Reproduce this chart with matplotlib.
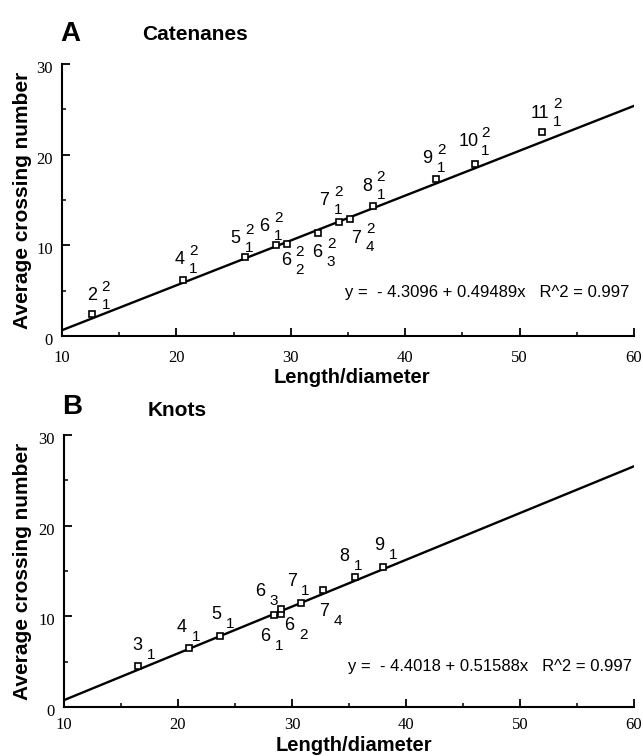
# average crossing number vs length/diameter for catenanes and knots

import matplotlib.pyplot as plt
import matplotlib.transforms as mtransforms
import numpy as np

# panel A - catenanes
cat_len = [12.6, 20.6, 26.0, 28.7, 29.7, 32.4, 34.2, 35.2, 37.2, 42.7, 46.1, 52.0]
cat_cross = [2.4, 6.2, 8.7, 10.05, 10.15, 11.4, 12.55, 12.9, 14.3, 17.3, 19.0, 22.55]
cat_main = ['2', '4', '5', '6', '6', '6', '7', '7', '8', '9', '10', '11']
cat_sub = ['1', '1', '1', '1', '2', '3', '1', '4', '1', '1', '1', '1']
cat_fit = (-4.3096, 0.49489)
cat_eq = 'y =  - 4.3096 + 0.49489x   R^2 = 0.997'

# panel B - knots
knot_len = [16.5, 21.0, 23.7, 28.4, 29.0, 29.0, 30.8, 32.7, 35.5, 37.95]
knot_cross = [4.47, 6.54, 7.85, 10.1, 10.3, 10.8, 11.5, 12.85, 14.37, 15.46]
knot_main = ['3', '4', '5', '6', '6', '6', '7', '7', '8', '9']
knot_sub = ['1', '1', '1', '1', '2', '3', '1', '4', '1', '1']
knot_fit = (-4.4018, 0.51588)
knot_eq = 'y =  - 4.4018 + 0.51588x   R^2 = 0.997'

# label placement (pixels right / down from the point)
cat_off = [(0, -20.5), (-3.7, -22), (-9.5, -20.5), (-11.5, -20), (-1.5, 15), (-1.2, 18),
           (-14.4, -23.5), (5.8, 17), (-6.2, -22), (-8.7, -22.3), (-6.7, -24), (-2.4, -20.5)]
knot_off = [(-1.2, -23), (-7.4, -22.3), (-3.7, -23.6), (-8.2, 18.7), (8.5, 10), (-20.6, -19.7),
            (-9.5, -23), (1.2, 19.3), (-10.3, -22.6), (-3.7, -23.6)]

W, H = 643, 756
SANS = 'Liberation Sans'
SERIF = 'Liberation Serif'


def put(ax, x, y, s, dx, dy, size):
    # dx, dy: pixel offset of the digit centre (dy positive = down)
    em = size / 72 * 100
    ax.annotate(s, (x, y), xytext=(dx, -dy - 0.36 * em), textcoords='offset pixels',
                ha='center', va='baseline', fontsize=size, family=SANS)


def setup(ax, xpad, ypad):
    ax.set_xlim(10, 60)
    ax.set_ylim(0, 30)
    for s in ['top', 'right']:
        ax.spines[s].set_visible(False)
    for s in ['left', 'bottom']:
        ax.spines[s].set_linewidth(1.5)
    ax.set_xticks(np.arange(10, 61, 10))
    ax.set_xticks(np.arange(15, 60, 10), minor=True)
    ax.set_yticks([0, 10, 20, 30])
    ax.set_yticks([5, 15, 25], minor=True)
    ax.tick_params(which='major', direction='in', length=5.5, width=1.3, labelsize=12)
    ax.tick_params(which='minor', direction='in', length=2.7, width=1.1)
    ax.tick_params(axis='x', which='major', pad=xpad)
    ax.tick_params(axis='y', which='major', pad=ypad)
    shift = mtransforms.ScaledTranslation(0, -3 / 100, ax.figure.dpi_scale_trans)
    for lab in ax.get_xticklabels() + ax.get_yticklabels():
        lab.set_family(SERIF)
    for lab in ax.get_yticklabels():
        lab.set_transform(lab.get_transform() + shift)


def panel(ax, xs, ys, mains, subs, offs, fit, eq, eq_xy, linked):
    xl = np.array([10, 60])
    ax.plot(xl, fit[0] + fit[1] * xl, color='black', linewidth=1.7, zorder=2)
    ax.plot(xs, ys, linestyle='none', marker='s', markersize=5, markerfacecolor='white',
            markeredgecolor='black', markeredgewidth=1.2, zorder=3, clip_on=False)
    for x, y, m, s, (dx, dy) in zip(xs, ys, mains, subs, offs):
        put(ax, x, y, m, dx, dy, 13)
        w = 14 if len(m) == 1 else 17
        if linked:
            put(ax, x, y, '2', dx + w, dy - 8.5, 11)
            put(ax, x, y, s, dx + w, dy + 9.5, 11)
        else:
            put(ax, x, y, s, dx + w, dy + 10, 11)
    ax.text(eq_xy[0], eq_xy[1], eq, ha='right', va='center', fontsize=12, family=SANS)


fig = plt.figure(figsize=(W / 100, H / 100), dpi=100)

axA = fig.add_axes([62 / W, 1 - 336 / H, (634 - 62) / W, (336 - 64) / H])
setup(axA, 10, 6.5)
panel(axA, cat_len, cat_cross, cat_main, cat_sub, cat_off, cat_fit, cat_eq, (59.6, 4.76), True)

axB = fig.add_axes([64 / W, 1 - 707 / H, (634 - 64) / W, (707 - 435) / H])
setup(axB, 7, 6.5)
panel(axB, knot_len, knot_cross, knot_main, knot_sub, knot_off, knot_fit, knot_eq, (59.8, 4.47), False)

# titles and axis labels
fig.text(70 / W, 1 - 34 / H, 'A', fontsize=20, weight='bold', family=SANS, ha='center', va='center')
fig.text(142 / W, 1 - 34 / H, 'Catenanes', fontsize=15, weight='bold', family=SANS, ha='left', va='center')
fig.text(72 / W, 1 - 407 / H, 'B', fontsize=20, weight='bold', family=SANS, ha='center', va='center')
fig.text(148 / W, 1 - 411 / H, 'Knots', fontsize=15, weight='bold', family=SANS, ha='left', va='center')

for yc in [(64 + 336) / 2, (435 + 707) / 2]:
    fig.text(23 / W, 1 - yc / H, 'Average crossing number', rotation=90, fontsize=15,
             weight='bold', family=SANS, ha='center', va='center')
fig.text(352 / W, 1 - 383 / H, 'Length/diameter', fontsize=14.5, weight='bold', family=SANS,
         ha='center', va='baseline')
fig.text(354 / W, 1 - 751 / H, 'Length/diameter', fontsize=14.5, weight='bold', family=SANS,
         ha='center', va='baseline')

fig.savefig('out.png', dpi=100)
